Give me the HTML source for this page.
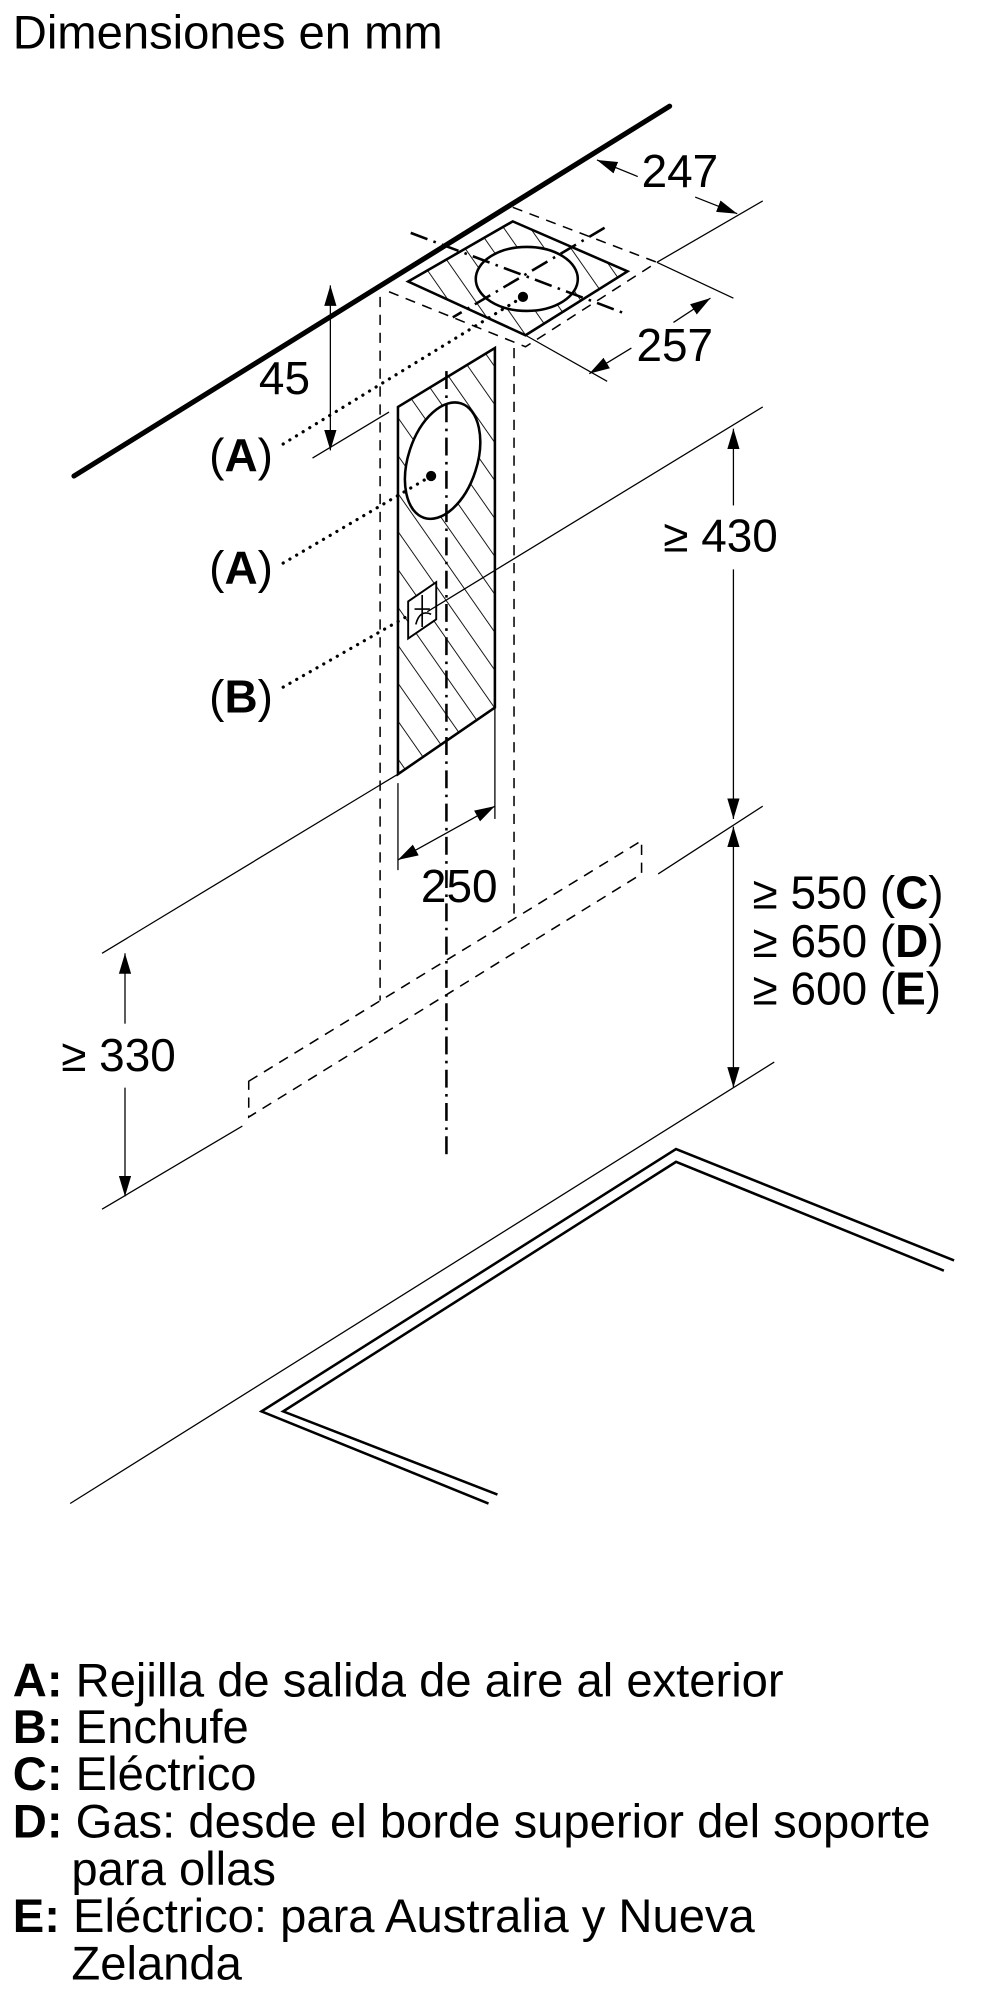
<!DOCTYPE html>
<html><head><meta charset="utf-8"><style>
html,body{margin:0;padding:0;background:#fff;}
svg{display:block;}
text{font-family:"Liberation Sans",sans-serif;fill:#000;}
</style></head><body>
<svg width="1000" height="2000" viewBox="0 0 784 1563" preserveAspectRatio="none" xmlns="http://www.w3.org/2000/svg">
<defs>
<pattern id="h" patternUnits="userSpaceOnUse" width="17" height="17" patternTransform="rotate(-35)">
<line x1="0" y1="0" x2="0" y2="17" stroke="#000" stroke-width="1.4"/>
</pattern>
<marker id="b" viewBox="0 0 10 10" refX="10" refY="5" markerWidth="16" markerHeight="16" orient="auto-start-reverse" markerUnits="userSpaceOnUse">
<path d="M0,2 L10,5 L0,8 Z" fill="#000"/></marker>
</defs>

<text x="10" y="38" font-size="37">Dimensiones en mm</text>

<line x1="58" y1="372" x2="525" y2="83" stroke="#000" stroke-width="4" stroke-linecap="round"/>

<g stroke="#000" stroke-width="1.2" fill="none" stroke-dasharray="8,6">
<polyline points="305,228 412,271 515,205"/>
<line x1="402" y1="162" x2="515" y2="205"/>
<line x1="298" y1="232" x2="298" y2="782"/>
<line x1="403" y1="272" x2="403" y2="720"/>
<polygon points="195,845 503,657 503,683 195,873"/>
</g>

<polygon points="320,220 402,173 492,212 412,262" fill="url(#h)" stroke="#000" stroke-width="2"/>
<ellipse cx="413" cy="218" rx="40" ry="25" fill="#fff" stroke="#000" stroke-width="2"/>
<circle cx="410" cy="232" r="4" fill="#000"/>
<g stroke="#000" stroke-width="2" stroke-dasharray="14,5,2,5" fill="none">
<line x1="322" y1="182" x2="490" y2="245"/>
<line x1="474" y1="178" x2="355" y2="248"/>
</g>

<g stroke="#000" stroke-width="1" fill="none">
<line x1="515" y1="205" x2="598" y2="157"/>
<line x1="515" y1="205" x2="575" y2="233"/>
<line x1="412" y1="262" x2="476" y2="298"/>
<line x1="245" y1="358" x2="305" y2="322"/>
<line x1="468" y1="125" x2="500" y2="138" marker-start="url(#b)"/>
<line x1="545" y1="154" x2="578" y2="167" marker-end="url(#b)"/>
<line x1="462" y1="292" x2="495" y2="272" marker-start="url(#b)"/>
<line x1="528" y1="252" x2="557" y2="233" marker-end="url(#b)"/>
<line x1="259" y1="223" x2="259" y2="352" marker-start="url(#b)" marker-end="url(#b)"/>
</g>
<text x="503" y="146" font-size="36">247</text>
<text x="499" y="282" font-size="36">257</text>
<text x="203" y="308" font-size="36">45</text>

<polygon points="312,318 388,272 388,553 312,605" fill="url(#h)" stroke="#000" stroke-width="2"/>
<ellipse cx="347" cy="360" rx="27" ry="47" transform="rotate(18 347 360)" fill="#fff" stroke="#000" stroke-width="2"/>
<circle cx="338" cy="372" r="4" fill="#000"/>
<polygon points="320,470 342,455 342,484 320,499" fill="#fff" stroke="#000" stroke-width="1.5"/>
<path d="M326,488 q3,-12 12,-8 M331,465 v25 M325,476 h12" stroke="#000" stroke-width="1.3" fill="none"/>
<line x1="350" y1="290" x2="350" y2="905" stroke="#000" stroke-width="2" stroke-dasharray="14,5,2,5"/>

<text x="164" y="368" font-size="36">(<tspan font-weight="bold">A</tspan>)</text>
<text x="164" y="456" font-size="36">(<tspan font-weight="bold">A</tspan>)</text>
<text x="164" y="557" font-size="36">(<tspan font-weight="bold">B</tspan>)</text>
<g stroke="#000" stroke-width="2.5" stroke-dasharray="0.1,6" stroke-linecap="round" fill="none">
<line x1="222" y1="347" x2="410" y2="232"/>
<line x1="222" y1="440" x2="338" y2="372"/>
<line x1="222" y1="537" x2="322" y2="480"/>
</g>

<g stroke="#000" stroke-width="1" fill="none">
<line x1="598" y1="318" x2="335" y2="478"/>
<line x1="598" y1="630" x2="516" y2="683"/>
<line x1="312" y1="605" x2="80" y2="745"/>
<line x1="607" y1="830" x2="55" y2="1175"/>
<line x1="190" y1="880" x2="80" y2="945"/>
<line x1="575" y1="335" x2="575" y2="395" marker-start="url(#b)"/>
<line x1="575" y1="445" x2="575" y2="640" marker-end="url(#b)"/>
<line x1="575" y1="646" x2="575" y2="850" marker-start="url(#b)" marker-end="url(#b)"/>
<line x1="98" y1="745" x2="98" y2="800" marker-start="url(#b)"/>
<line x1="98" y1="850" x2="98" y2="935" marker-end="url(#b)"/>
<line x1="312" y1="612" x2="312" y2="680"/>
<line x1="388" y1="553" x2="388" y2="640"/>
<line x1="312" y1="672" x2="388" y2="630" marker-start="url(#b)" marker-end="url(#b)"/>
</g>
<text x="520" y="431" font-size="36">≥ 430</text>
<text x="590" y="710" font-size="36">≥ 550 (<tspan font-weight="bold">C</tspan>)</text>
<text x="590" y="748" font-size="36">≥ 650 (<tspan font-weight="bold">D</tspan>)</text>
<text x="590" y="785" font-size="36">≥ 600 (<tspan font-weight="bold">E</tspan>)</text>
<text x="48" y="837" font-size="36">≥ 330</text>
<text x="330" y="705" font-size="36">250</text>

<g stroke="#000" stroke-width="2" fill="none">
<polyline points="383,1175 205,1103 530,898 748,985"/>
<polyline points="390,1168 222,1103 530,908 740,993"/>
</g>

<g font-size="37">
<text x="10" y="1326"><tspan font-weight="bold">A:</tspan> Rejilla de salida de aire al exterior</text>
<text x="10" y="1362"><tspan font-weight="bold">B:</tspan> Enchufe</text>
<text x="10" y="1399"><tspan font-weight="bold">C:</tspan> Eléctrico</text>
<text x="10" y="1436"><tspan font-weight="bold">D:</tspan> Gas: desde el borde superior del soporte</text>
<text x="56" y="1473">para ollas</text>
<text x="10" y="1510"><tspan font-weight="bold">E:</tspan> Eléctrico: para Australia y Nueva</text>
<text x="56" y="1547">Zelanda</text>
</g>
</svg>
</body></html>
